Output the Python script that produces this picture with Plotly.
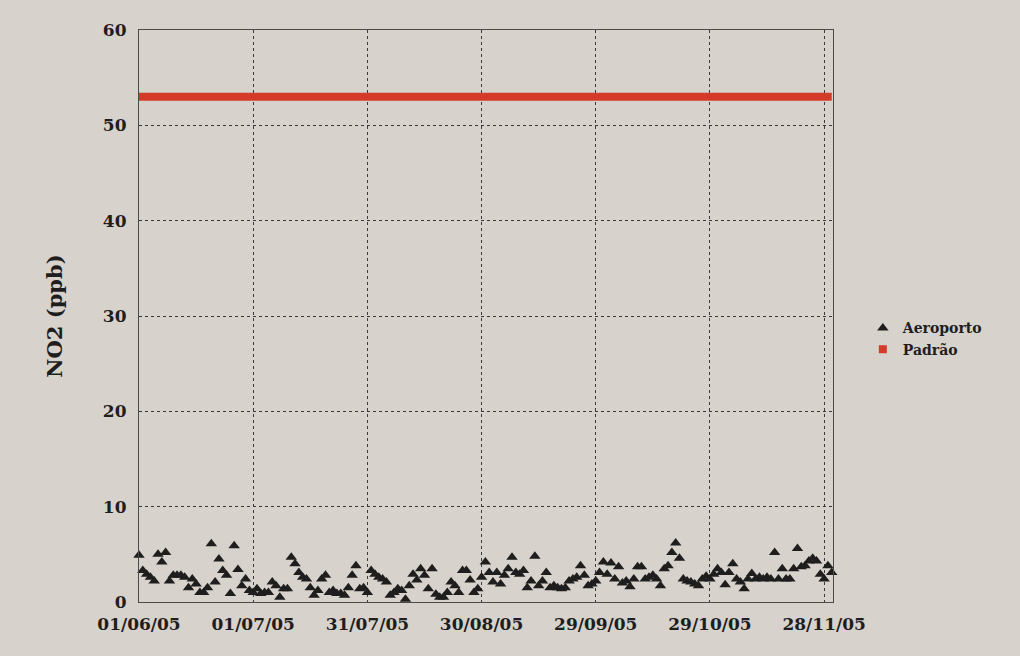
import datetime as dt
import plotly.graph_objects as go

START_DATE = "2005-06-01"

# Daily NO2 readings (ppb) at Aeroporto, 01/06/05 .. 30/11/05
aeroporto = [
    # June (days 0-29)
    4.9, 3.3, 2.9, 2.6, 2.2, 5.0, 4.2, 5.2, 2.2, 2.8,
    2.8, 2.8, 2.6, 1.5, 2.4, 1.9, 1.0, 1.0, 1.5, 6.1,
    2.1, 4.5, 3.3, 2.8, 0.9, 5.9, 3.4, 1.7, 2.4, 1.2,
    # days 30-59
    1.0, 1.4, 0.9, 1.0, 1.0, 2.1, 1.7, 0.5, 1.4, 1.4,
    4.7, 4.0, 3.1, 2.6, 2.4, 1.5, 0.7, 1.2, 2.4, 2.8,
    1.0, 1.2, 0.9, 0.9, 0.7, 1.5, 2.8, 3.8, 1.4, 1.5,
    # days 60-89
    1.0, 3.3, 2.9, 2.6, 2.4, 2.1, 0.7, 1.0, 1.4, 1.2,
    0.3, 1.7, 2.9, 2.3, 3.5, 2.8, 1.4, 3.5, 0.8, 0.5,
    0.5, 1.0, 2.1, 1.7, 1.0, 3.3, 3.3, 2.3, 1.0, 1.4,
    # days 90-119
    2.6, 4.2, 3.1, 2.1, 3.1, 1.9, 2.8, 3.5, 4.7, 3.1,
    2.9, 3.3, 1.5, 2.2, 4.8, 1.7, 2.2, 3.1, 1.5, 1.7,
    1.5, 1.4, 1.5, 2.2, 2.4, 2.6, 3.8, 2.8, 1.7, 1.9,
    # days 120-149
    2.2, 3.1, 4.2, 2.9, 4.1, 2.4, 3.7, 2.0, 2.2, 1.6,
    2.4, 3.7, 3.7, 2.4, 2.6, 2.8, 2.4, 1.7, 3.5, 3.8,
    5.2, 6.2, 4.6, 2.4, 2.2, 2.1, 1.9, 1.7, 2.4, 2.7,
    # days 150-182
    2.4, 2.9, 3.5, 3.1, 1.8, 3.1, 4.0, 2.4, 2.1, 1.4,
    2.4, 3.0, 2.4, 2.6, 2.4, 2.6, 2.4, 5.2, 2.4, 3.5,
    2.4, 2.4, 3.5, 5.6, 3.7, 3.8, 4.3, 4.6, 4.3, 2.9,
    2.4, 3.8, 3.1,
]

padrao_value = 53  # standard (ppb)

tick_labels = ["01/06/05", "01/07/05", "31/07/05", "30/08/05",
               "29/09/05", "29/10/05", "28/11/05"]
y_ticks = [0, 10, 20, 30, 40, 50, 60]

start = dt.date.fromisoformat(START_DATE)
dates = [start + dt.timedelta(days=i) for i in range(len(aeroporto))]
tick_dates = [dt.datetime.strptime(t, "%d/%m/%y").date() for t in tick_labels]

BG = "rgb(216,210,204)"
INK = "#1e1e1e"
RED = "rgb(212,58,40)"
FONT = "DejaVu Serif"

fig = go.Figure()

fig.add_trace(go.Scatter(
    x=[dates[0], dates[-1]], y=[padrao_value, padrao_value],
    mode="lines", line=dict(color=RED, width=8),
    showlegend=False, hoverinfo="skip",
))

fig.add_trace(go.Scatter(
    x=dates, y=aeroporto, mode="markers", name="Aeroporto",
    marker=dict(symbol="triangle-up", size=10, color=INK),
    cliponaxis=False,
))

fig.add_trace(go.Scatter(
    x=[None], y=[None], mode="markers", name="Padrão",
    marker=dict(symbol="square", size=8, color=RED),
))

fig.update_layout(
    width=1020, height=656,
    margin=dict(l=139, r=187, t=30, b=54),
    paper_bgcolor=BG, plot_bgcolor=BG,
    font=dict(family=FONT, color=INK),
    showlegend=True,
    legend=dict(
        x=1.043, y=0.46, xanchor="left", yanchor="middle",
        bgcolor="rgba(0,0,0,0)",
        font=dict(family=FONT, size=14, color=INK, weight="bold"),
        itemwidth=30, tracegroupgap=2,
    ),
)

fig.update_xaxes(
    type="date",
    range=[dt.datetime(2005, 6, 1), dt.datetime(2005, 11, 30, 8)],
    tickvals=tick_dates, ticktext=tick_labels,
    tickfont=dict(family=FONT, size=17, color=INK, weight="bold"),
    showgrid=True, gridcolor="#3a3a3a", gridwidth=1, griddash="3px,3px",
    showline=True, linecolor="#4a4a4a", linewidth=1.2, mirror=True,
    ticks="", zeroline=False, ticklabelstandoff=6,
)

fig.update_yaxes(
    range=[0, 60], tickvals=y_ticks,
    tickfont=dict(family=FONT, size=17, color=INK, weight="bold"),
    showgrid=True, gridcolor="#3a3a3a", gridwidth=1, griddash="3px,3px",
    showline=True, linecolor="#4a4a4a", linewidth=1.2, mirror=True,
    ticks="", zeroline=False, ticklabelstandoff=8,
    title=dict(text="NO2 (ppb)", standoff=34,
               font=dict(family=FONT, size=21, color=INK, weight="bold")),
)

fig.write_html(
    "out.html",
    config={"displayModeBar": False},
    post_script="document.body.style.margin='0';document.body.style.background='" + BG + "';",
)
